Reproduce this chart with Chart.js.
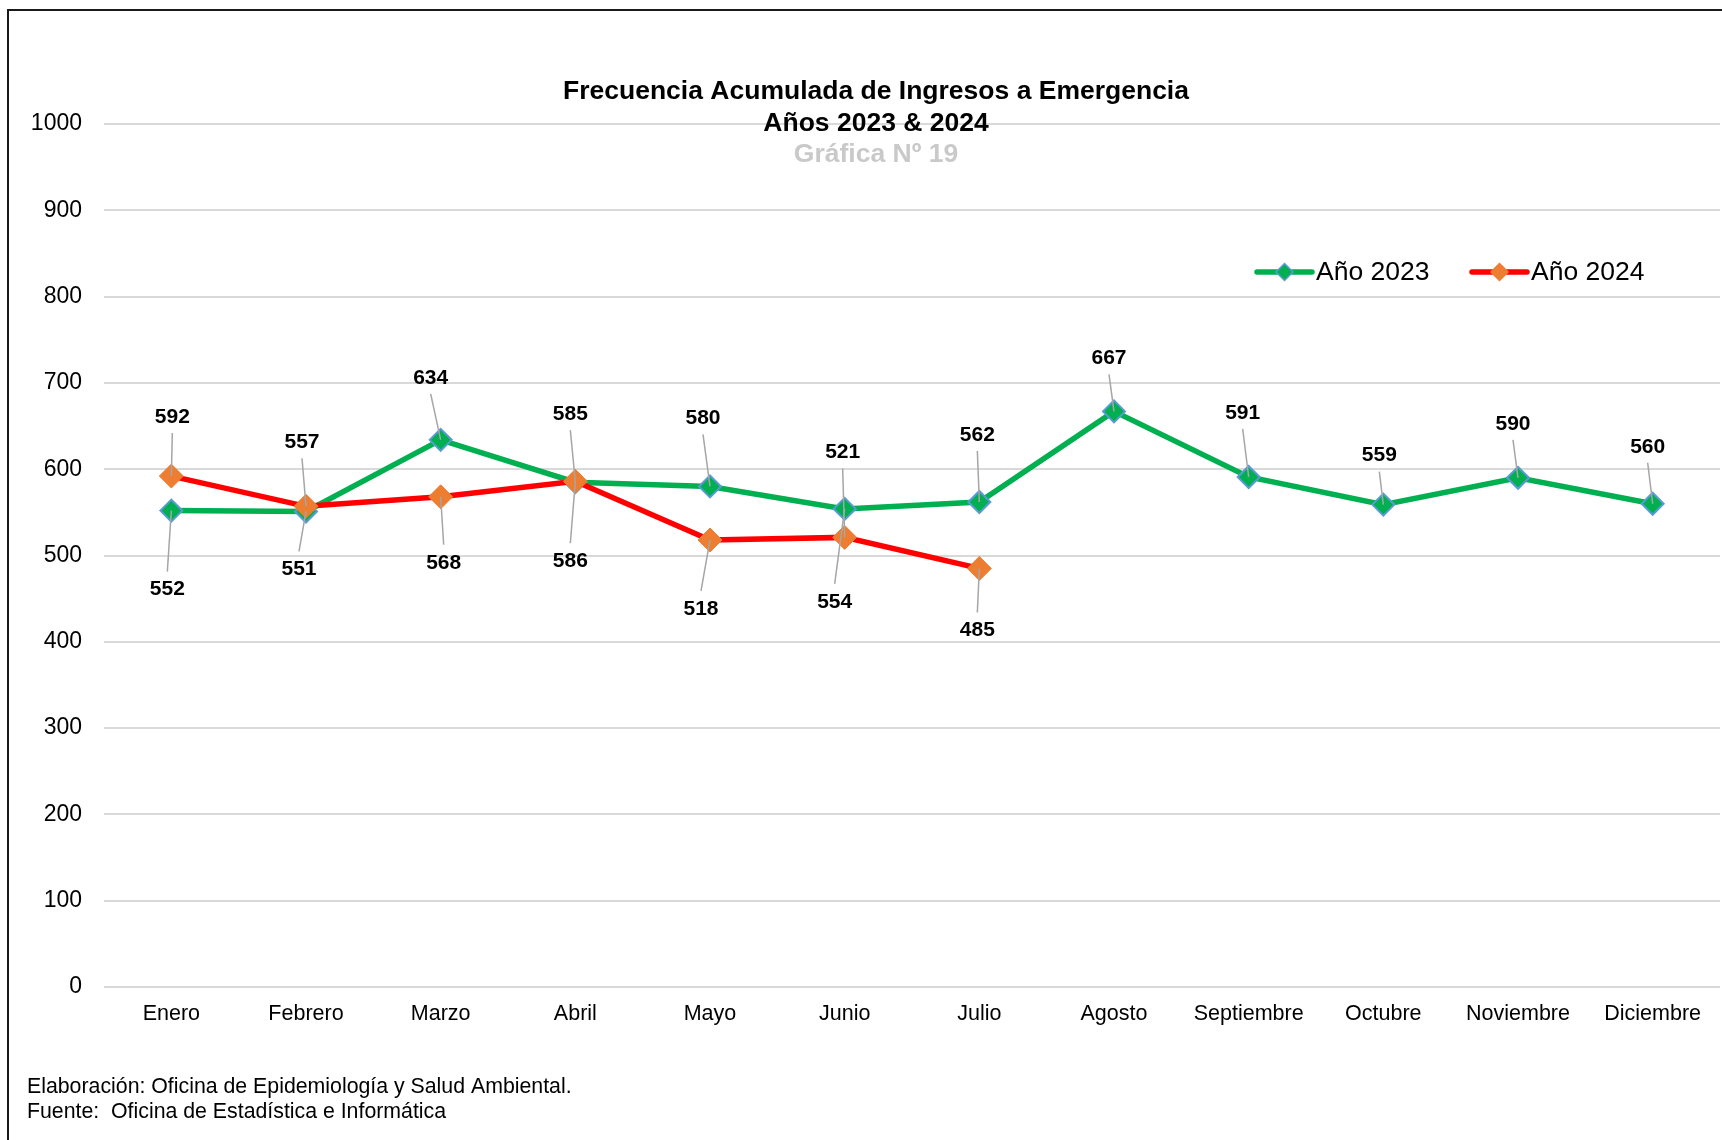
<!DOCTYPE html>
<html lang="es">
<head>
<meta charset="utf-8">
<title>Frecuencia Acumulada de Ingresos a Emergencia</title>
<script src="https://cdn.jsdelivr.net/npm/chart.js@4.4.1/dist/chart.umd.min.js"></script>
<style>
  html, body { margin: 0; padding: 0; background: #fff; }
  #wrap { position: relative; width: 1722px; height: 1140px; overflow: hidden; }
  #marco { position: absolute; left: 7px; top: 9px; width: 1800px; height: 1200px; border: 2px solid #1a1a1a; box-sizing: border-box; }
  canvas { position: absolute; left: 0; top: 0; }
</style>
</head>
<body>
<div id="wrap">
  <div id="marco"></div>
  <canvas id="graficoEmergencia" width="1722" height="1140"></canvas>
</div>
<script>
// Datos de la gráfica
const meses = ['Enero', 'Febrero', 'Marzo', 'Abril', 'Mayo', 'Junio', 'Julio',
               'Agosto', 'Septiembre', 'Octubre', 'Noviembre', 'Diciembre'];
const anio2023 = [552, 551, 634, 585, 580, 554, 562, 667, 591, 559, 590, 560];
const anio2024 = [592, 557, 568, 586, 518, 521, 485];
const ticksY = [0, 100, 200, 300, 400, 500, 600, 700, 800, 900, 1000];

// Desplazamiento (px) de cada etiqueta respecto a su punto, como en el original
const desplaz2023 = [[-4, 79], [-7, 58], [-10, -62], [-5, -68], [-7, -68], [-10, 93],
                     [-2, -67], [-5, -53], [-6, -64], [-4, -49], [-5, -54], [-5, -57]];
const desplaz2024 = [[1, -59], [-4, -64], [3, 66], [-5, 80], [-9, 69], [-2, -85], [-2, 62]];

const FUENTE = "'Liberation Sans', Arial, Helvetica, sans-serif";
const VERDE = '#00B050';
const ROJO = '#FF0000';
const NARANJA = '#ED7D31';
const AZUL = '#5B9BD5';

/**
 * Dibuja las etiquetas de datos con su línea guía gris.
 */
const etiquetasPlugin = {
    id: 'etiquetas',
    afterDatasetsDraw(chart) {
        const ctx = chart.ctx;
        ctx.save();
        ctx.font = `bold 21px ${FUENTE}`;
        ctx.textAlign = 'center';
        ctx.textBaseline = 'middle';
        chart.data.datasets.forEach((ds, i) => {
            const meta = chart.getDatasetMeta(i);
            const desplaz = ds.desplaz;
            meta.data.forEach((punto, j) => {
                const [dx, dy] = desplaz[j];
                const lx = punto.x + dx;
                const ly = punto.y + dy;
                const inicioY = dy < 0 ? ly + 16 : ly - 18;
                // línea guía
                ctx.strokeStyle = '#a6a6a6';
                ctx.lineWidth = 1.5;
                ctx.beginPath();
                ctx.moveTo(lx, inicioY);
                ctx.lineTo(punto.x, punto.y);
                ctx.stroke();
                ctx.fillStyle = '#000';
                ctx.fillText(String(ds.data[j]), lx, ly);
            });
        });
        ctx.restore();
    }
};

/**
 * Título, leyenda y pie de la gráfica.
 */
const textosPlugin = {
    id: 'textos',
    afterDraw(chart) {
        const ctx = chart.ctx;
        ctx.save();
        ctx.textAlign = 'center';
        ctx.textBaseline = 'middle';
        ctx.fillStyle = '#000';
        ctx.font = `bold 26.5px ${FUENTE}`;
        ctx.fillText('Frecuencia Acumulada de Ingresos a Emergencia', 876, 92);
        ctx.fillText('Años 2023 & 2024', 876, 124);
        ctx.fillStyle = '#c9c9c9';
        ctx.font = `bold 26.5px ${FUENTE}`;
        ctx.fillText('Gráfica Nº 19', 876, 155);

        // leyenda
        const items = [
            { texto: 'Año 2023', linea: VERDE, relleno: VERDE, borde: AZUL, x0: 1257, x1: 1312, tx: 1316 },
            { texto: 'Año 2024', linea: ROJO, relleno: NARANJA, borde: NARANJA, x0: 1472, x1: 1527, tx: 1531 }
        ];
        const yl = 272;
        items.forEach(it => {
            ctx.strokeStyle = it.linea;
            ctx.lineWidth = 5.5;
            ctx.lineCap = 'round';
            ctx.beginPath();
            ctx.moveTo(it.x0, yl);
            ctx.lineTo(it.x1, yl);
            ctx.stroke();
            const cx = (it.x0 + it.x1) / 2;
            const r = 8.5;
            ctx.beginPath();
            ctx.moveTo(cx, yl - r);
            ctx.lineTo(cx + r, yl);
            ctx.lineTo(cx, yl + r);
            ctx.lineTo(cx - r, yl);
            ctx.closePath();
            ctx.fillStyle = it.relleno;
            ctx.fill();
            ctx.strokeStyle = it.borde;
            ctx.lineWidth = 1.5;
            ctx.stroke();
            ctx.fillStyle = '#000';
            ctx.font = `26.5px ${FUENTE}`;
            ctx.textAlign = 'left';
            ctx.fillText(it.texto, it.tx, yl + 1);
        });

        // pie
        ctx.font = `21.3px ${FUENTE}`;
        ctx.textAlign = 'left';
        ctx.fillStyle = '#000';
        ctx.fillText('Elaboración: Oficina de Epidemiología y Salud Ambiental.', 27, 1087);
        ctx.fillText('Fuente:  Oficina de Estadística e Informática', 27, 1112);
        ctx.restore();
    }
};

const ctx = document.getElementById('graficoEmergencia').getContext('2d');

new Chart(ctx, {
    type: 'line',
    data: {
        labels: meses,
        datasets: [
            {
                label: 'Año 2023',
                data: anio2023,
                desplaz: desplaz2023,
                borderColor: VERDE,
                borderWidth: 5.5,
                pointStyle: 'rectRot',
                pointRadius: 11,
                pointBackgroundColor: VERDE,
                pointBorderColor: AZUL,
                pointBorderWidth: 2,
                tension: 0,
                order: 2
            },
            {
                label: 'Año 2024',
                data: anio2024,
                desplaz: desplaz2024,
                borderColor: ROJO,
                borderWidth: 5.5,
                pointStyle: 'rectRot',
                pointRadius: 12,
                pointBackgroundColor: NARANJA,
                pointBorderColor: NARANJA,
                pointBorderWidth: 1,
                tension: 0,
                order: 1
            }
        ]
    },
    options: {
        responsive: false,
        animation: false,
        devicePixelRatio: 1,
        layout: { autoPadding: false, padding: { top: 124, right: 2, left: 0, bottom: 0 } },
        plugins: {
            legend: { display: false },
            title: { display: false },
            tooltip: { enabled: false }
        },
        scales: {
            x: {
                offset: true,
                grid: { display: false, drawTicks: false },
                border: { display: false },
                ticks: {
                    color: '#000',
                    font: { family: FUENTE, size: 21.5 },
                    padding: 14,
                    maxRotation: 0,
                    autoSkip: false
                },
                afterFit: scale => {
                    scale.height = 153;
                    scale.paddingLeft = 0;
                    scale.paddingRight = 0;
                }
            },
            y: {
                min: ticksY[0],
                max: ticksY[ticksY.length - 1],
                afterBuildTicks: scale => { scale.ticks = ticksY.map(v => ({ value: v })); },
                grid: { color: '#d9d9d9', lineWidth: 2, drawTicks: false },
                border: { display: false },
                ticks: {
                    color: '#000',
                    font: { family: FUENTE, size: 23 },
                    padding: 22,
                    callback: v => String(v)
                },
                afterFit: scale => { scale.width = 104; }
            }
        }
    },
    plugins: [etiquetasPlugin, textosPlugin]
});
</script>
</body>
</html>
